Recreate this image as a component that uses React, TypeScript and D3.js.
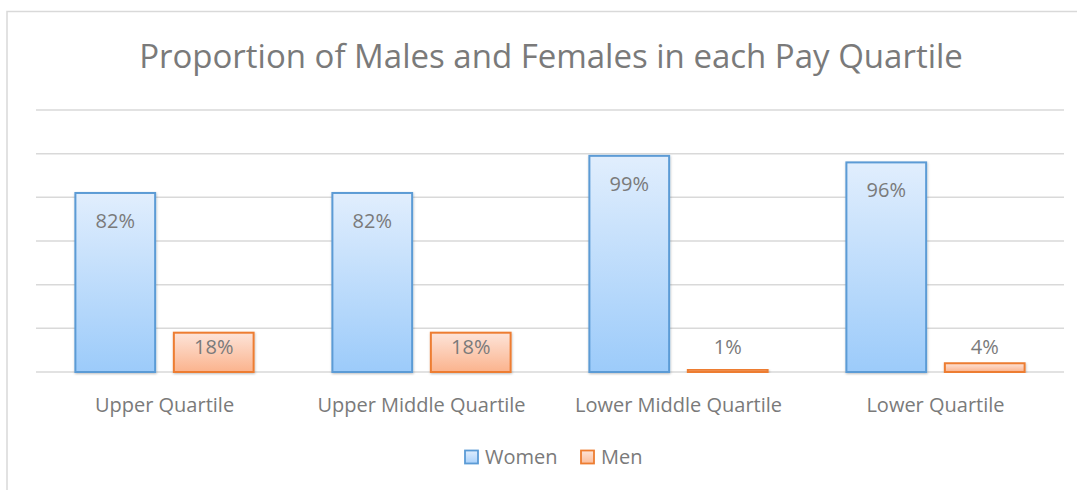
import React from "react";
import * as d3 from "d3";

const categories = ["Upper Quartile", "Upper Middle Quartile", "Lower Middle Quartile", "Lower Quartile"];
const seriesNames = ["Women", "Men"];
const women = [0.82, 0.82, 0.99, 0.96];
const men = [0.18, 0.18, 0.01, 0.04];
const yTicks = [0, 0.2, 0.4, 0.6, 0.8, 1.0, 1.2];
const title = "Proportion of Males and Females in each Pay Quartile";

const W = 1077;
const H = 490;
const FONT = "'Open Sans', 'DejaVu Sans', sans-serif";
const TEXT = "#7a7a7a";
const GRID = "#d9d9d9";

export default function App() {
  const x0 = d3.scaleBand<string>().domain(categories).range([36, 1064]).paddingInner(0).paddingOuter(0);
  const x1 = d3
    .scaleBand<string>()
    .domain(seriesNames)
    .range([0, x0.bandwidth()])
    .paddingInner(0.19)
    .paddingOuter(0.4);
  const y = d3.scaleLinear().domain([0, 1.2]).range([372, 110]);
  const fmt = d3.format(".0%");

  const series = [
    { name: "Women", values: women, fill: "url(#gWomen)", stroke: "#5b9bd5" },
    { name: "Men", values: men, fill: "url(#gMen)", stroke: "#ed7d31" },
  ];

  return (
    <svg
      width={W}
      height={H}
      style={{ position: "absolute", left: 0, top: 0, background: "#fff" }}
      fontFamily={FONT}
    >
      <defs>
        <linearGradient id="gWomen" x1="0" y1="0" x2="0" y2="1">
          <stop offset="0%" stopColor="#e1eefd" />
          <stop offset="100%" stopColor="#9ccbfa" />
        </linearGradient>
        <linearGradient id="gMen" x1="0" y1="0" x2="0" y2="1">
          <stop offset="0%" stopColor="#fde4d9" />
          <stop offset="100%" stopColor="#fbb38d" />
        </linearGradient>
        <linearGradient id="gWomenL" x1="0" y1="0" x2="0" y2="1">
          <stop offset="0%" stopColor="#e1eefd" />
          <stop offset="100%" stopColor="#a9d1fb" />
        </linearGradient>
        <linearGradient id="gMenL" x1="0" y1="0" x2="0" y2="1">
          <stop offset="0%" stopColor="#fde4d9" />
          <stop offset="100%" stopColor="#fbbd9b" />
        </linearGradient>
        <filter id="shadow" x="-10%" y="-10%" width="120%" height="120%">
          <feDropShadow dx="0.5" dy="1" stdDeviation="1" floodColor="#000" floodOpacity="0.25" />
        </filter>
      </defs>

      <rect x={7} y={11.5} width={1090} height={500} fill="#fff" stroke={GRID} strokeWidth={1.5} />

      <text x={551} y={68} textAnchor="middle" fontSize={33} fill={TEXT}>
        {title}
      </text>

      {yTicks.map((t) => (
        <line key={t} x1={36} x2={1064} y1={y(t)} y2={y(t)} stroke={GRID} strokeWidth={1.5} />
      ))}

      {categories.map((c, i) => (
        <g key={c} transform={`translate(${x0(c)},0)`}>
          {series.map((s) => {
            const v = s.values[i];
            const bx = x1(s.name)!;
            const top = y(v);
            const h = y(0) - top;
            const labelY = s.name === "Women" ? top + 35 : Math.min(top + 21, y(0) - 18);
            return (
              <g key={s.name}>
                <rect
                  x={bx}
                  y={top}
                  width={x1.bandwidth()}
                  height={h}
                  fill={s.fill}
                  stroke={s.stroke}
                  strokeWidth={2}
                  filter="url(#shadow)"
                />
                <text x={bx + x1.bandwidth() / 2} y={labelY} textAnchor="middle" fontSize={20} fill={TEXT}>
                  {fmt(v)}
                </text>
              </g>
            );
          })}
          <text x={x0.bandwidth() / 2} y={412} textAnchor="middle" fontSize={20} fill={TEXT}>
            {c}
          </text>
        </g>
      ))}

      {/* legend */}
      {[
        { name: "Women", x: 465, fill: "url(#gWomenL)", stroke: "#5b9bd5" },
        { name: "Men", x: 581, fill: "url(#gMenL)", stroke: "#ed7d31" },
      ].map((l) => (
        <g key={l.name}>
          <rect x={l.x} y={450.5} width={13} height={13} fill={l.fill} stroke={l.stroke} strokeWidth={1.8} />
          <text x={l.x + 20} y={464} fontSize={20} fill={TEXT}>
            {l.name}
          </text>
        </g>
      ))}
    </svg>
  );
}
